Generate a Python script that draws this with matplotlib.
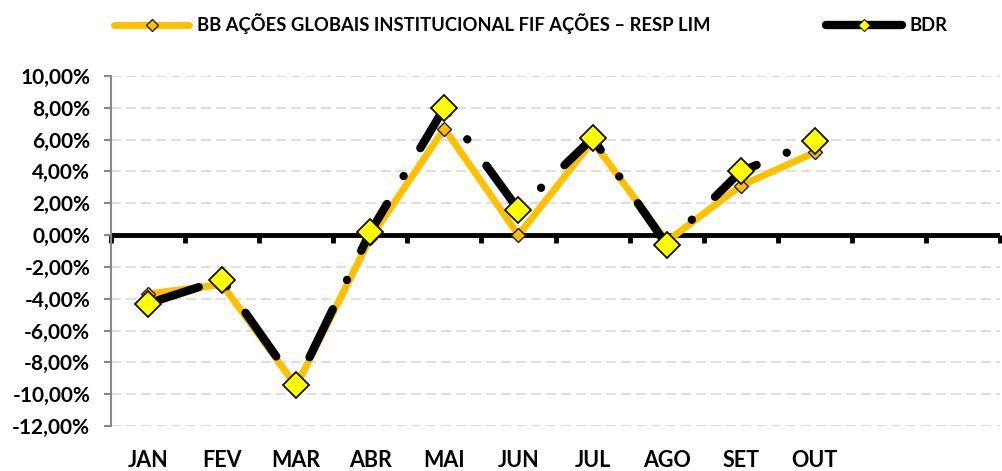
import matplotlib
matplotlib.use("Agg")
import matplotlib.pyplot as plt
from matplotlib.ticker import FuncFormatter
from matplotlib.lines import Line2D
import numpy as np

months = ["JAN", "FEV", "MAR", "ABR", "MAI", "JUN", "JUL", "AGO", "SET", "OUT"]
bb_fund = [-3.7, -3.1, -9.5, -0.2, 6.7, 0.0, 5.9, -0.4, 3.1, 5.2]
bdr = [-4.3, -2.8, -9.4, 0.2, 8.0, 1.6, 6.1, -0.6, 4.0, 5.9]
series_names = ["BB AÇÕES GLOBAIS INSTITUCIONAL FIF AÇÕES – RESP LIM", "BDR"]
yticks = np.arange(-12, 11, 2)

plt.rcParams['font.family'] = ['Lato', 'DejaVu Sans']
plt.rcParams['font.weight'] = 'bold'

fig = plt.figure(figsize=(10.02, 4.71), dpi=100)
ax = fig.add_axes([111/1002, 45/471, 889/1002, 350/471])

x = np.arange(len(months))
orange = "#FFC000"

ax.plot(x, bb_fund, color=orange, lw=5, solid_joinstyle='miter', zorder=3,
        marker='D', markersize=7, markerfacecolor=orange, markeredgecolor='#222222',
        markeredgewidth=1.0)
ax.plot(x, bdr, color='black', lw=6, linestyle=(0, (6.4, 3.9, 0.01, 3.9)),
        dash_capstyle='round', zorder=4, marker='D', markersize=13,
        markerfacecolor='#FFFF00', markeredgecolor='#111111', markeredgewidth=1.3)

ax.set_xlim(-0.5, 11.5)
ax.set_ylim(-12, 10)
ax.set_yticks(yticks)
ax.yaxis.set_major_formatter(FuncFormatter(lambda v, p: f"{v:.2f}%".replace('.', ',')))
ax.grid(axis='y', color='#D9D9D9', linestyle=(0, (6, 3)), lw=1.2, zorder=0)

for s in ['top', 'right', 'bottom']:
    ax.spines[s].set_visible(False)
ax.spines['left'].set_color('#888888')
ax.spines['left'].set_linewidth(1.5)
ax.tick_params(axis='y', colors='#888888', length=5, width=1.5, labelcolor='black',
               labelsize=15, pad=10)
ax.set_xticks(x)
ax.set_xticklabels(months)
ax.tick_params(axis='x', length=0, labelsize=15.5, pad=17)
for lab in ax.get_yticklabels() + ax.get_xticklabels():
    lab.set_fontweight('bold')

ax.axhline(0, color='black', lw=3.5, zorder=2)
sec = ax.secondary_xaxis(12/22)
sec.set_xticks(np.arange(-0.5, 12, 1))
sec.set_xticklabels([])
sec.tick_params(axis='x', direction='in', length=6, width=3.5, color='black')
for s in sec.spines.values():
    s.set_visible(False)

handles = [
    Line2D([], [], color=orange, lw=5, solid_capstyle='round', marker='D', markersize=6,
           markerfacecolor=orange, markeredgecolor='#222222', markeredgewidth=1.0),
    Line2D([], [], color='black', lw=6, solid_capstyle='round', marker='D', markersize=6,
           markerfacecolor='#FFFF00', markeredgecolor='#111111', markeredgewidth=0.8),
]
fig.legend(handles, series_names, loc='center left', bbox_to_anchor=(114/1002, 447/471),
           ncol=2, frameon=False, borderpad=0, borderaxespad=0, handlelength=4.1,
           handletextpad=0.45, columnspacing=6.3, prop={'weight': 'bold', 'size': 13.2})

fig.savefig("out.png", dpi=100)
